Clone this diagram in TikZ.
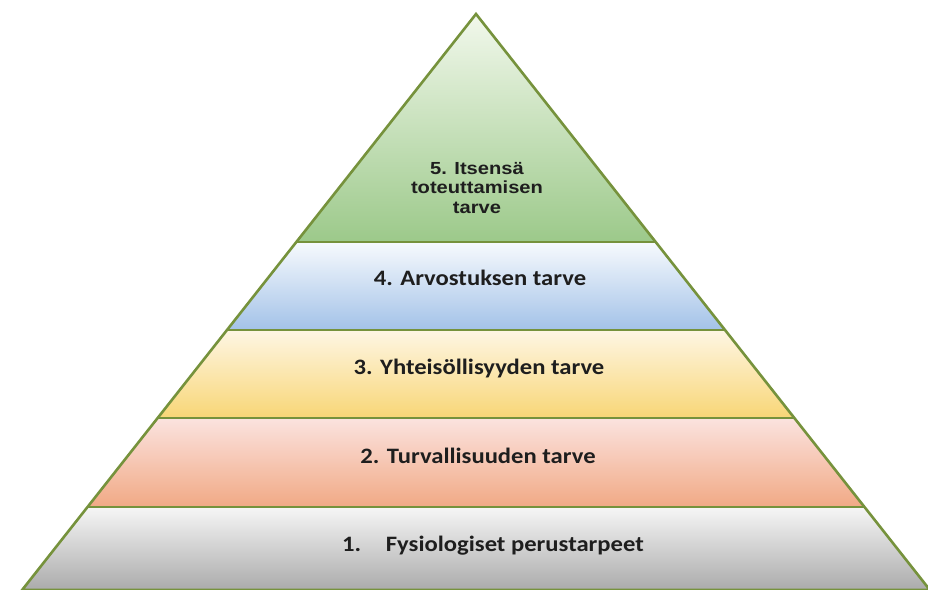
\documentclass[tikz,border=0pt]{standalone}
\usepackage{fontspec}
\newfontfamily\pyrbody{Carlito}
\newfontfamily\pyrhead{Liberation Sans}
\definecolor{pyrEdge}{HTML}{76923C}
\definecolor{pyrText}{HTML}{1E1E1E}
\definecolor{greenTop}{HTML}{F2F8EC}
\definecolor{greenBot}{HTML}{9CC98A}
\definecolor{blueTop}{HTML}{F7FAFD}
\definecolor{blueBot}{HTML}{A3C2E8}
\definecolor{yellowTop}{HTML}{FEF6E4}
\definecolor{yellowBot}{HTML}{F8D676}
\definecolor{redTop}{HTML}{FBE3DF}
\definecolor{redBot}{HTML}{F1A985}
\definecolor{grayTop}{HTML}{F6F6F6}
\definecolor{grayBot}{HTML}{A9A9A9}
\tikzset{
  pyramid/.style={x=1pt, y=-1pt,
    every node/.style={text=pyrText, inner sep=0pt, outer sep=0pt}},
  pyr edge/.style={draw=pyrEdge, line width=2.6pt, line join=miter},
  pyr label/.style={font=\pyrbody\bfseries\fontsize{22}{26}\selectfont,
    xscale=1.12, anchor=base},
  pyr top label/.style={font=\pyrhead\bfseries\fontsize{17.5}{19.5}\selectfont,
    xscale=1.15, align=center}
}
% one band of the pyramid, between two heights
\newcommand{\PyramidLayer}[4]{%
  \shade[top color=#3, bottom color=#4]
    ({476-0.788*(#1-14)},#1) -- ({476+0.788*(#1-14)},#1)
    -- ({476+0.788*(#2-14)},#2) -- ({476-0.788*(#2-14)},#2) -- cycle;
}

\begin{document}
\begin{tikzpicture}[pyramid]
    \useasboundingbox (0,0) rectangle (928,589);
    \fill[white] (0,0) rectangle (928,589);
    \clip (0,0) rectangle (928,589);
    \PyramidLayer{14}{242}{greenTop}{greenBot}
    \PyramidLayer{242}{330}{blueTop}{blueBot}
    \PyramidLayer{330}{418}{yellowTop}{yellowBot}
    \PyramidLayer{418}{507}{redTop}{redBot}
    \PyramidLayer{507}{592}{grayTop}{grayBot}
    \draw[pyr edge] (476,14) -- ({476-0.788*576},590) -- ({476+0.788*576},590) -- cycle;
    \foreach \h in {242,330,418,507}
      \draw[pyr edge] ({476-0.788*(\h-14)},\h) -- ({476+0.788*(\h-14)},\h);
    \node[pyr top label] (self) at (477,188) {5. Itsensä\\toteuttamisen\\tarve};
    \node[pyr label] (esteem) at (480,285) {4. Arvostuksen tarve};
    \node[pyr label] (belong) at (479,374) {3. Yhteisöllisyyden tarve};
    \node[pyr label] (safety) at (478,463) {2. Turvallisuuden tarve};
    \node[pyr label] (physio) at (493,551) {1.\hspace{1em}Fysiologiset perustarpeet};
  \end{tikzpicture}
\end{document}
